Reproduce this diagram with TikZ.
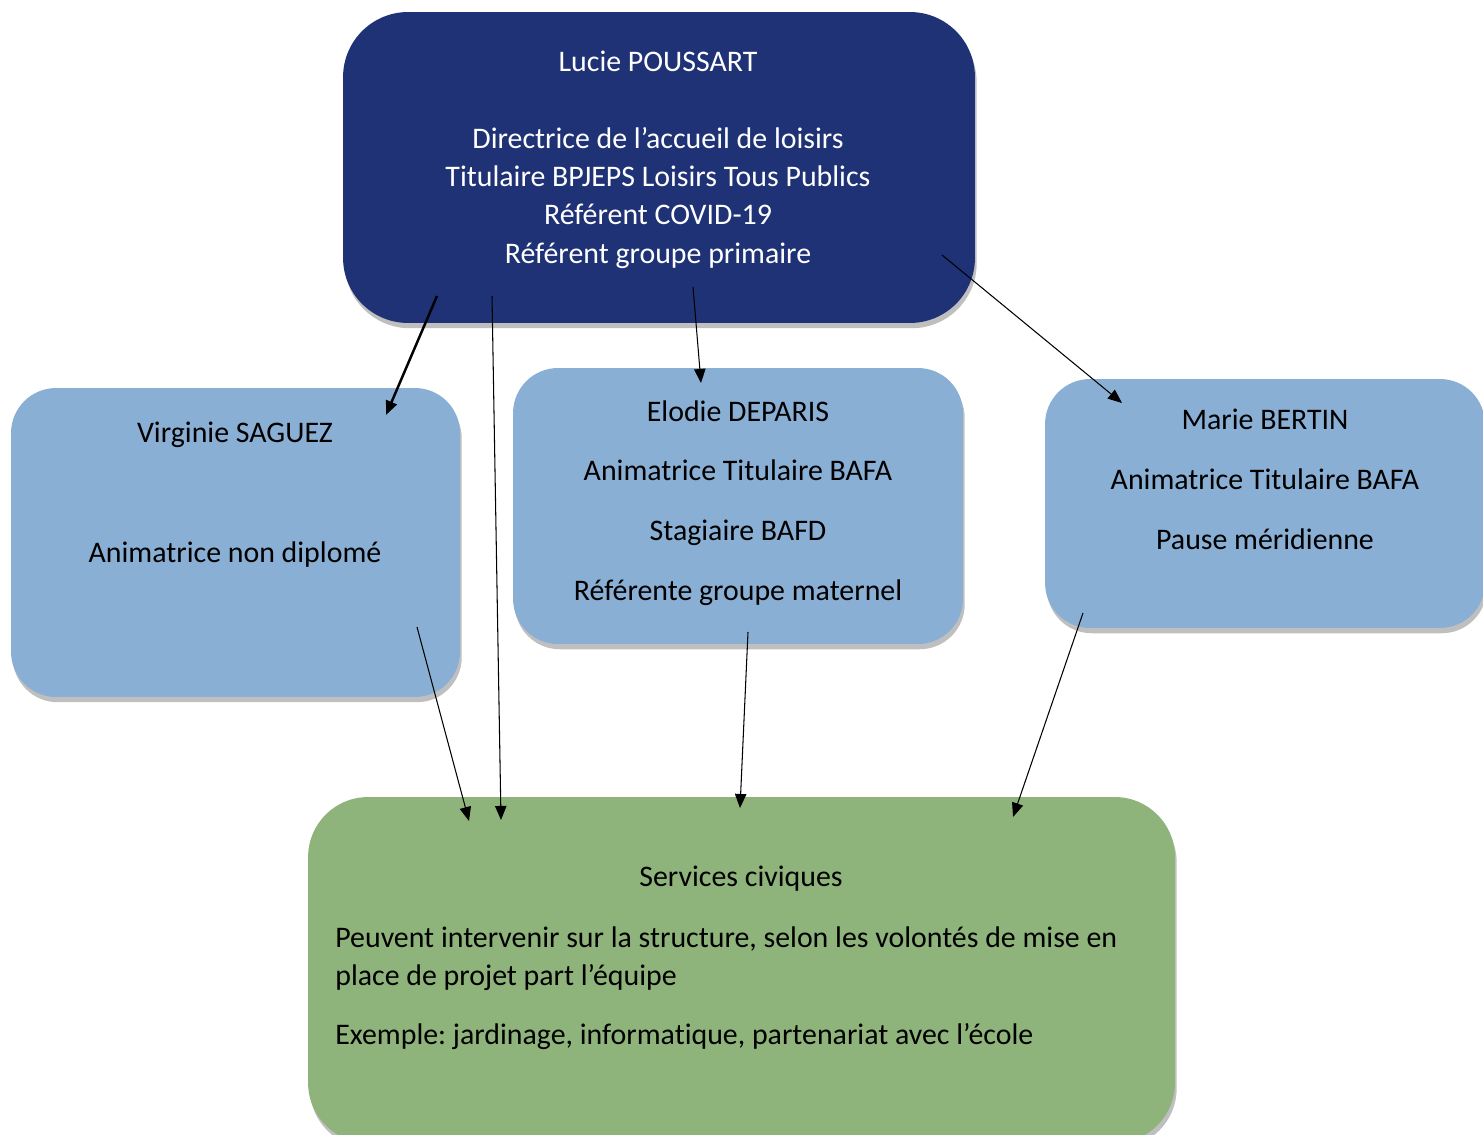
\documentclass[tikz,border=0pt]{standalone}
\usepackage{fontspec}
\setmainfont{Carlito}[Ligatures=NoCommon]
\usetikzlibrary{arrows.meta}
\usetikzlibrary{shadows}
\frenchspacing

\definecolor{chiefblue}{RGB}{31,50,117}
\definecolor{staffblue}{RGB}{138,175,212}
\definecolor{civicgreen}{RGB}{143,180,123}

\tikzset{
  card/.style={draw=none, inner sep=0pt,
    drop shadow={shadow xshift=1pt, shadow yshift=-3pt, opacity=0.25, fill=black}},
  chiefcard/.style={card, fill=chiefblue, rounded corners=1.3cm},
  staffcard/.style={card, fill=staffblue, rounded corners=0.9cm},
  civiccard/.style={card, fill=civicgreen, rounded corners=1.2cm},
  cardtext/.style={inner sep=0pt, anchor=north, align=center,
    font=\fontsize{17pt}{21.7pt}\selectfont},
  link/.style={-{Triangle[length=8pt, width=6.5pt]}, line width=0.6pt},
  boldlink/.style={link, line width=1.4pt}
}

\begin{document}
\begin{tikzpicture}[x=0.02cm, y=-0.02cm]
  \useasboundingbox (0,0) rectangle (1483,1135);

  % boxes
  \node[chiefcard, minimum width=12.64cm, minimum height=6.22cm] (lucie) at (659,167.5) {};
  \node[staffcard, minimum width=8.98cm, minimum height=6.18cm] (virginie) at (235.5,542.5) {};
  \node[staffcard, minimum width=9.0cm, minimum height=5.52cm] (elodie) at (738,506) {};
  \node[staffcard, minimum width=8.8cm, minimum height=4.98cm] (marie) at (1265,503.5) {};
  \node[civiccard, minimum width=17.34cm, minimum height=6.92cm] (civic) at (741.5,970) {};

  % texts
  \node[cardtext, text=white] (lucietext) at (658,51)
    {Lucie POUSSART\\[22pt]Directrice de l’accueil de loisirs\\Titulaire BPJEPS Loisirs Tous Publics\\R\'ef\'erent COVID-19\\R\'ef\'erent groupe primaire};
  \node[cardtext] (virginietext) at (235,422)
    {Virginie SAGUEZ\\[46.5pt]Animatrice non diplom\'e};
  \node[cardtext] (elodietext) at (738,400)
    {Elodie DEPARIS\\[12.3pt]Animatrice Titulaire BAFA\\[12.3pt]Stagiaire BAFD\\[12.3pt]R\'ef\'erente groupe maternel};
  \node[cardtext] (marietext) at (1265,409)
    {Marie BERTIN\\[12.3pt]Animatrice Titulaire BAFA\\[12.3pt]Pause m\'eridienne};
  \node[cardtext] (civictitle) at (741,866) {Services civiques};
  \node[cardtext, anchor=north west, align=left] (civictext) at (335,926)
    {Peuvent intervenir sur la structure, selon les volont\'es de mise en\\place de projet part l’\'equipe\\[12.3pt]Exemple: jardinage, informatique, partenariat avec l’\'ecole};

  % arrow ends
  \coordinate (l1) at (437,296);
  \coordinate (l2) at (492,296);
  \coordinate (l3) at (693,287);
  \coordinate (l4) at (942,255);
  \coordinate (v1) at (386,415);
  \coordinate (v2) at (417,627);
  \coordinate (e1) at (701,383);
  \coordinate (e2) at (748,632);
  \coordinate (m1) at (1122,403);
  \coordinate (m2) at (1083,613);
  \coordinate (c1) at (469,821);
  \coordinate (c2) at (501,820);
  \coordinate (c3) at (740,808);
  \coordinate (c4) at (1013,817);

  \draw[boldlink] (l1) -- (v1);
  \draw[link] (l2) -- (c2);
  \draw[link] (l3) -- (e1);
  \draw[link] (l4) -- (m1);
  \draw[link] (v2) -- (c1);
  \draw[link] (e2) -- (c3);
  \draw[link] (m2) -- (c4);
\end{tikzpicture}
\end{document}
